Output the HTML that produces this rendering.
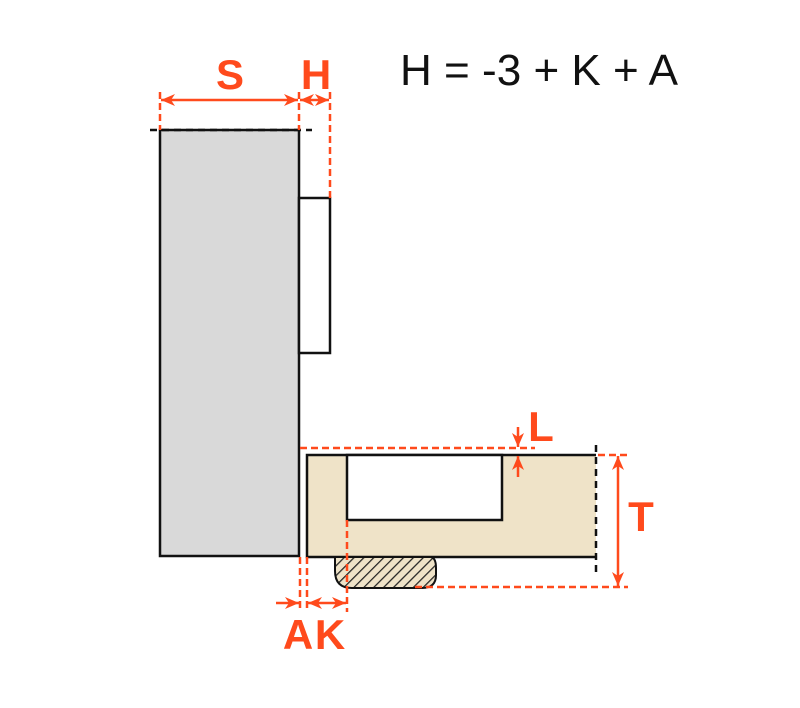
<!DOCTYPE html>
<html><head><meta charset="utf-8"><style>html,body{margin:0;padding:0;background:#fff}svg{display:block}</style></head><body>
<svg width="800" height="708" viewBox="0 0 800 708" xmlns="http://www.w3.org/2000/svg">
<defs>
<pattern id="h" patternUnits="userSpaceOnUse" width="7" height="7" patternTransform="rotate(45)">
<rect width="7" height="7" fill="#efe3c8"/><line x1="0" y1="0" x2="0" y2="7" stroke="#222" stroke-width="2.5"/>
</pattern>
<marker id="ar" viewBox="0 0 14 12" refX="14" refY="6" markerWidth="14" markerHeight="12" orient="auto-start-reverse" markerUnits="userSpaceOnUse"><path d="M0,0 L14,6 L0,12 L4,6 Z" fill="#ff4a1c"/></marker>
</defs>
<rect x="160" y="130" width="139" height="426" fill="#d9d9d9" stroke="#111" stroke-width="2.5"/>
<rect x="299" y="198" width="31" height="155" fill="#fff" stroke="#111" stroke-width="2.5"/>
<rect x="307" y="455" width="289" height="102" fill="#efe3c8"/>
<path d="M596,455 H307 V557 H596" fill="none" stroke="#111" stroke-width="2.5"/>
<rect x="347" y="455" width="155" height="65" fill="#fff" stroke="#111" stroke-width="2.5"/>
<path d="M335,557 H430 Q436,557 436,568 V575 Q436,588 422,588 H352 Q335,588 335,571 Z" fill="url(#h)" stroke="#111" stroke-width="2"/>
<line x1="150" y1="130" x2="312" y2="130" stroke="#111" stroke-width="2.5" stroke-dasharray="7,5"/>
<line x1="596" y1="445" x2="596" y2="572" stroke="#111" stroke-width="2.5" stroke-dasharray="7,5"/>
<g fill="none" stroke="#ff4a1c" stroke-width="2.5" stroke-dasharray="7,4">
<line x1="160" y1="92" x2="160" y2="130"/>
<line x1="299" y1="92" x2="299" y2="130"/>
<line x1="330" y1="92" x2="330" y2="198"/>
<line x1="300" y1="448" x2="535" y2="448"/>
<line x1="598" y1="455" x2="628" y2="455"/>
<line x1="415" y1="587" x2="628" y2="587"/>
<line x1="300" y1="557" x2="300" y2="612"/>
<line x1="307" y1="557" x2="307" y2="612"/>
<line x1="347" y1="520" x2="347" y2="612"/>
</g>
<g stroke="#ff4a1c" stroke-width="2.5" fill="none">
<line x1="161" y1="100" x2="298" y2="100" marker-start="url(#ar)" marker-end="url(#ar)"/>
<line x1="300" y1="100" x2="329" y2="100" marker-start="url(#ar)" marker-end="url(#ar)"/>
<line x1="518" y1="427" x2="518" y2="447" marker-end="url(#ar)"/>
<line x1="518" y1="477" x2="518" y2="456" marker-end="url(#ar)"/>
<line x1="618" y1="456" x2="618" y2="586" marker-start="url(#ar)" marker-end="url(#ar)"/>
<line x1="276" y1="603" x2="299" y2="603" marker-end="url(#ar)"/>
<line x1="308" y1="603" x2="346" y2="603" marker-start="url(#ar)" marker-end="url(#ar)"/>
</g>
<g fill="#ff4a1c" font-family="Liberation Sans, sans-serif" font-weight="bold" font-size="42" text-anchor="middle">
<text x="230" y="89">S</text>
<text x="316" y="89">H</text>
<text x="541" y="441">L</text>
<text x="641" y="531">T</text>
<text x="298" y="649">A</text>
<text x="330" y="649">K</text>
</g>
<text x="400" y="85" font-family="Liberation Sans, sans-serif" font-size="44" fill="#111" textLength="278" lengthAdjust="spacingAndGlyphs">H = -3 + K + A</text>
</svg>
</body></html>
